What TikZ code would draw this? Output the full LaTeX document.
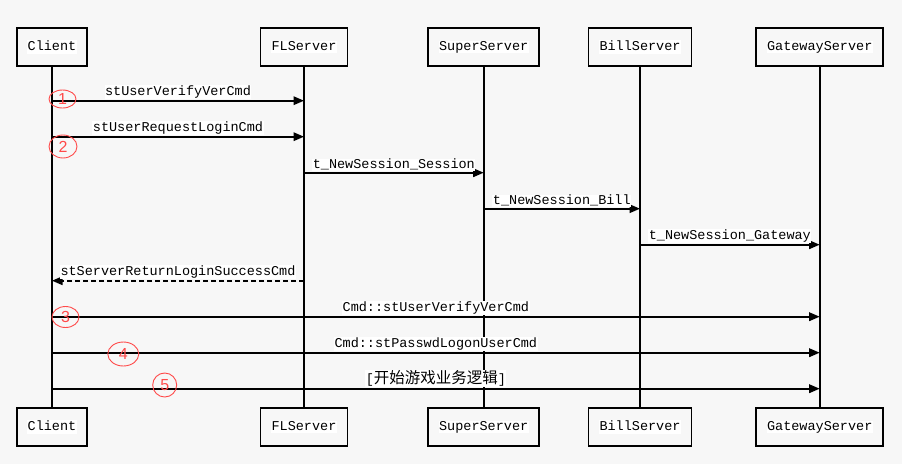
\documentclass[tikz,border=0pt]{standalone}
\usepackage{fontspec}
\setmonofont{Liberation Mono}
\newfontfamily\cjk{Noto Sans CJK SC}
\newfontfamily\numfont{Liberation Sans}
\usetikzlibrary{arrows.meta,shapes.geometric}
\definecolor{bg}{HTML}{F7F7F7}
\definecolor{numred}{HTML}{FF4A4A}
\newcommand{\wtxt}[1]{{\fboxsep=0.5pt\colorbox{white}{\vphantom{Cy}#1}}}
\begin{document}
\begin{tikzpicture}[x=1pt,y=-1pt,
  actor/.style={draw, line width=1.8pt, font=\ttfamily\fontsize{13.5}{14}\selectfont,
    minimum height=38pt, inner xsep=10.5pt, inner ysep=0pt},
  life/.style={line width=1.8pt},
  msg/.style={line width=1.8pt, -{Triangle[length=10.5pt,width=8.5pt]}},
  ret/.style={msg, dash pattern=on 5pt off 3pt},
  lbl/.style={midway, anchor=south, yshift=1pt, fill=white, inner sep=0.5pt,
    font=\ttfamily\fontsize{13.5}{14}\selectfont},
  numc/.style={ellipse, draw=numred, line width=0.9pt, inner sep=0pt,
    text=numred, font=\numfont\fontsize{16}{16}\selectfont}]
\fill[bg] (0,0) rectangle (902,464);
\useasboundingbox (0,0) rectangle (902,464);
% top actors
\node[actor] (cT) at (52,47) {\wtxt{Client}};
\node[actor] (fT) at (304,47) {\wtxt{FLServer}};
\node[actor] (sT) at (483.7,47) {\wtxt{SuperServer}};
\node[actor] (bT) at (640,47) {\wtxt{BillServer}};
\node[actor] (gT) at (819.7,47) {\wtxt{GatewayServer}};
% bottom actors
\node[actor] (cB) at (52,427) {\wtxt{Client}};
\node[actor] (fB) at (304,427) {\wtxt{FLServer}};
\node[actor] (sB) at (483.7,427) {\wtxt{SuperServer}};
\node[actor] (bB) at (640,427) {\wtxt{BillServer}};
\node[actor] (gB) at (819.7,427) {\wtxt{GatewayServer}};
% lifelines
\draw[life] (cT) -- (cB);
\draw[life] (fT) -- (fB);
\draw[life] (sT) -- (sB);
\draw[life] (bT) -- (bB);
\draw[life] (gT) -- (gB);
% message levels
\coordinate (y1) at (0,100.7);
\coordinate (y2) at (0,136.7);
\coordinate (y3) at (0,172.7);
\coordinate (y4) at (0,208.7);
\coordinate (y5) at (0,244.7);
\coordinate (y6) at (0,280.7);
\coordinate (y7) at (0,316.7);
\coordinate (y8) at (0,352.7);
\coordinate (y9) at (0,388.7);
% messages
\draw[msg] (cT |- y1) -- (fT |- y1) node[lbl] {stUserVerifyVerCmd};
\draw[msg] (cT |- y2) -- (fT |- y2) node[lbl] {stUserRequestLoginCmd};
\draw[msg] (fT |- y3) -- (sT |- y3) node[lbl] {t\_NewSession\_Session};
\draw[msg] (sT |- y4) -- (bT |- y4) node[lbl] {t\_NewSession\_Bill};
\draw[msg] (bT |- y5) -- (gT |- y5) node[lbl] {t\_NewSession\_Gateway};
\draw[ret] (fT |- y6) -- (cT |- y6) node[lbl] {stServerReturnLoginSuccessCmd};
\draw[msg] (cT |- y7) -- (gT |- y7) node[lbl] {Cmd::stUserVerifyVerCmd};
\draw[msg] (cT |- y8) -- (gT |- y8) node[lbl] {Cmd::stPasswdLogonUserCmd};
\draw[msg] (cT |- y9) -- (gT |- y9) node[lbl] {[{\cjk\fontsize{15.5}{16}\selectfont 开始游戏业务逻辑}]};
% red step marks
\node[numc, minimum width=27pt, minimum height=18pt] (n1) at (62.5,99) {1};
\node[numc, minimum width=28pt, minimum height=23pt] (n2) at (63,146.5) {2};
\node[numc, minimum width=27pt, minimum height=21pt] (n3) at (65.5,317) {3};
\node[numc, minimum width=31pt, minimum height=24pt] (n4) at (123.3,354) {4};
\node[numc, minimum width=24pt, minimum height=24pt] (n5) at (164.7,385) {5};
\end{tikzpicture}
\end{document}
